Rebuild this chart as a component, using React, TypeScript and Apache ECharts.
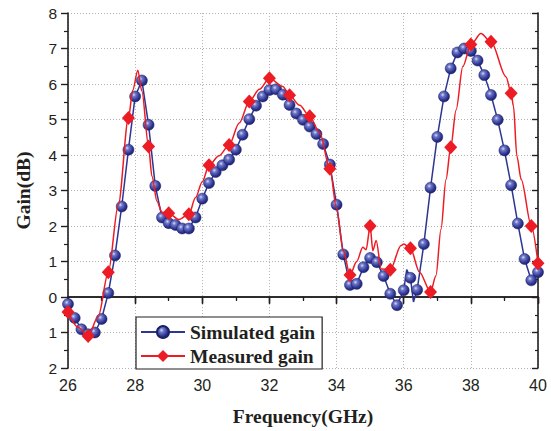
import React, { useEffect, useRef } from "react";
import * as echarts from "echarts";

// Frequency (GHz) and gain (dB) for simulated gain; null marker flag = line-only point
const simFreq = [26.0, 26.2, 26.4, 26.6, 26.8, 27.0, 27.2, 27.4, 27.6, 27.8, 28.0, 28.2, 28.4, 28.6, 28.8, 29.0, 29.2, 29.4, 29.6, 29.8, 30.0, 30.2, 30.4, 30.6, 30.8, 31.0, 31.2, 31.4, 31.6, 31.8, 32.0, 32.2, 32.4, 32.6, 32.8, 33.0, 33.2, 33.4, 33.6, 33.8, 34.0, 34.2, 34.4, 34.6, 34.8, 35.0, 35.2, 35.4, 35.6, 35.8, 36.0, 36.09, 36.2, 36.29, 36.4, 36.6, 36.8, 37.0, 37.2, 37.4, 37.6, 37.8, 38.0, 38.2, 38.4, 38.6, 38.8, 39.0, 39.2, 39.4, 39.6, 39.8, 40.0];
const simGain = [-0.2, -0.59, -0.91, -1.05, -1.0, -0.62, 0.11, 1.17, 2.55, 4.15, 5.65, 6.1, 4.85, 3.13, 2.24, 2.08, 2.03, 1.93, 1.93, 2.24, 2.77, 3.21, 3.52, 3.71, 3.87, 4.15, 4.57, 5.01, 5.39, 5.65, 5.83, 5.85, 5.7, 5.41, 5.17, 4.99, 4.8, 4.59, 4.31, 3.73, 2.6, 1.2, 0.34, 0.37, 0.84, 1.1, 0.98, 0.59, 0.09, -0.23, 0.19, 0.77, 0.54, -0.14, 0.2, 1.49, 3.08, 4.51, 5.65, 6.44, 6.89, 7.0, 6.93, 6.66, 6.25, 5.69, 4.99, 4.13, 3.15, 2.07, 1.07, 0.47, 0.7];
const simUnmarkedFreq = [36.09, 36.29];

// Measured gain: dense trace, with diamonds on the measured points
const measFreq = [26.0, 26.3, 26.6, 26.9, 27.2, 27.5, 27.8, 27.93, 28.08, 28.2, 28.4, 28.5, 28.65, 28.8, 29.0, 29.3, 29.6, 29.8, 30.0, 30.2, 30.5, 30.8, 31.1, 31.4, 31.7, 32.0, 32.4, 32.6, 32.9, 33.2, 33.5, 33.8, 34.0, 34.2, 34.4, 34.6, 34.78, 34.88, 35.0, 35.08, 35.18, 35.33, 35.6, 35.92, 36.0, 36.2, 36.47, 36.8, 36.96, 37.11, 37.26, 37.4, 37.56, 37.76, 38.0, 38.3, 38.6, 39.05, 39.2, 39.27, 39.37, 39.5, 39.8, 40.0];
const measGain = [-0.42, -0.85, -1.1, -0.55, 0.7, 2.6, 5.04, 5.83, 6.39, 5.8, 4.24, 3.4, 2.7, 2.38, 2.36, 2.18, 2.33, 2.8, 3.25, 3.71, 3.98, 4.28, 4.9, 5.51, 5.85, 6.16, 5.93, 5.68, 5.4, 5.09, 4.62, 3.61, 2.5, 1.3, 0.62, 1.0, 1.4, 1.33, 2.0, 1.3, 1.59, 0.79, 0.77, 1.45, 1.49, 1.37, 0.7, 0.14, 0.6, 1.91, 3.31, 4.22, 5.27, 6.49, 7.11, 7.42, 7.19, 6.2, 5.74, 5.37, 3.97, 3.31, 2.0, 0.95];
const measMarkedFreq = [26.0, 26.6, 27.2, 27.8, 28.4, 29.0, 29.6, 30.2, 30.8, 31.4, 32.0, 32.6, 33.2, 33.8, 34.4, 35.0, 35.6, 36.2, 36.8, 37.4, 38.0, 38.6, 39.2, 39.8, 40.0];

const xTicks = [26, 28, 30, 32, 34, 36, 38, 40];
const yTickLabels: Record<string, string> = { "-2": "2", "-1": "1", "0": "0", "1": "1", "2": "2", "3": "3", "4": "4", "5": "5", "6": "6", "7": "7", "8": "8" };

const seriesNames = ["Simulated gain", "Measured gain"];

export default function App() {
  const ref = useRef<HTMLDivElement>(null);
  useEffect(() => {
    if (!ref.current) return;
    const chart = echarts.init(ref.current, null, { renderer: "svg" });
    const axisColor = "#231f20";
    const ball = {
      type: "radial",
      x: 0.38,
      y: 0.35,
      r: 0.7,
      colorStops: [
        { offset: 0, color: "#d8dcf5" },
        { offset: 0.25, color: "#6e78c8" },
        { offset: 0.7, color: "#2e3592" },
        { offset: 1, color: "#1a1f66" },
      ],
    };
    const simData = simFreq.map((f, i) =>
      simUnmarkedFreq.includes(f) ? { value: [f, simGain[i]], symbol: "none" } : { value: [f, simGain[i]] }
    );
    const measData = measFreq.map((f, i) =>
      measMarkedFreq.includes(f) ? { value: [f, measGain[i]] } : { value: [f, measGain[i]], symbol: "none" }
    );
    const commonTickLabel = { color: "#231f20", fontFamily: "Liberation Sans" };
    const titleFont = { fontFamily: "Liberation Serif", fontWeight: "bold", fontSize: 19.5, color: "#231f20" };
    chart.setOption({
      animation: false,
      grid: { left: 68, right: 13, top: 13, bottom: 61 },
      legend: {
        orient: "vertical",
        left: 136,
        top: 317,
        data: seriesNames,
        itemWidth: 44,
        itemHeight: 15,
        itemGap: 4,
        padding: [5, 7, 3, 4],
        borderColor: "#231f20",
        borderWidth: 1.2,
        backgroundColor: "#fff",
        textStyle: { ...titleFont, fontSize: 19.5 },
      },
      xAxis: [
        {
          type: "value",
          min: 26,
          max: 40,
          interval: 2,
          position: "bottom",
          name: "Frequency(GHz)",
          nameLocation: "middle",
          nameGap: 38,
          nameTextStyle: titleFont,
          axisLine: { lineStyle: { color: axisColor, width: 1.6 } },
          axisTick: { inside: false, length: 7, lineStyle: { color: axisColor, width: 1.4 } },
          minorTick: { show: true, splitNumber: 2, length: 4, lineStyle: { color: axisColor, width: 1.2 } },
          axisLabel: { ...commonTickLabel, fontSize: 16, margin: 9, formatter: (v: number) => (xTicks.includes(v) ? String(v) : "") },
          splitLine: { show: true, lineStyle: { color: "#b4b4b4", type: [1, 2], width: 1 } },
        },
        {
          type: "value",
          min: 26,
          max: 40,
          interval: 2,
          position: "top",
          axisLine: { lineStyle: { color: axisColor, width: 1.6 } },
          axisTick: { inside: true, length: 6, lineStyle: { color: axisColor, width: 1.4 } },
          minorTick: { show: true, splitNumber: 2, length: 3, lineStyle: { color: axisColor, width: 1.2 } },
          axisLabel: { show: false },
          splitLine: { show: false },
        },
      ],
      yAxis: [
        {
          type: "value",
          min: -2,
          max: 8,
          interval: 1,
          position: "left",
          name: "Gain(dB)",
          nameLocation: "middle",
          nameGap: 35,
          nameTextStyle: titleFont,
          axisLine: { lineStyle: { color: axisColor, width: 1.6 } },
          axisTick: { inside: false, length: 7, lineStyle: { color: axisColor, width: 1.4 } },
          minorTick: { show: true, splitNumber: 2, length: 4, lineStyle: { color: axisColor, width: 1.2 } },
          axisLabel: { ...commonTickLabel, fontSize: 15.5, margin: 11, formatter: (v: number) => yTickLabels[String(v)] ?? "" },
          splitLine: { show: true, lineStyle: { color: "#b4b4b4", type: [1, 2], width: 1 } },
        },
        {
          type: "value",
          min: -2,
          max: 8,
          interval: 1,
          position: "right",
          axisLine: { lineStyle: { color: axisColor, width: 1.6 } },
          axisTick: { inside: true, length: 6, lineStyle: { color: axisColor, width: 1.4 } },
          minorTick: { show: true, splitNumber: 2, length: 3, lineStyle: { color: axisColor, width: 1.2 } },
          axisLabel: { show: false },
          splitLine: { show: false },
        },
      ],
      series: [
        {
          name: seriesNames[0],
          type: "line",
          xAxisIndex: 0,
          yAxisIndex: 0,
          data: simData,
          symbol: "circle",
          symbolSize: 11,
          showAllSymbol: true,
          clip: false,
          lineStyle: { color: "#2e3592", width: 1.5 },
          itemStyle: { color: ball as any, borderColor: "#1a1f66", borderWidth: 0.5 },
          z: 3,
        },
        {
          name: seriesNames[1],
          type: "line",
          xAxisIndex: 0,
          yAxisIndex: 0,
          data: measData,
          symbol: "diamond",
          symbolSize: [13, 14],
          showAllSymbol: true,
          smooth: 0.3,
          smoothMonotone: "x",
          clip: false,
          lineStyle: { color: "#ed1c24", width: 1.5 },
          itemStyle: { color: "#ed1c24" },
          z: 4,
        },
      ],
    });
    return () => chart.dispose();
  }, []);
  return <div ref={ref} style={{ position: "fixed", left: 0, top: 0, width: 551, height: 431, background: "#fff" }} />;
}
